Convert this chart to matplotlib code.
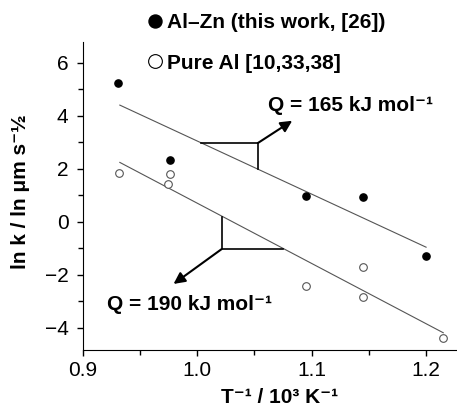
import numpy as np
import matplotlib
matplotlib.use("Agg")
import matplotlib.pyplot as plt

plt.rcParams['font.family'] = ['Liberation Sans', 'DejaVu Sans']

# Al-Zn (this work, [26])
alzn_x = [0.931, 0.976, 1.095, 1.145, 1.200]
alzn_y = [5.25, 2.35, 0.98, 0.94, -1.27]

# Pure Al [10,33,38]
pure_x = [0.932, 0.976, 0.975, 1.095, 1.145, 1.145, 1.215]
pure_y = [1.86, 1.80, 1.42, -2.40, -1.69, -2.84, -4.39]

# fitted lines (end points)
fit_alzn_x = [0.9326, 1.200]
fit_alzn_y = [4.40, -0.955]
fit_pure_x = [0.9326, 1.215]
fit_pure_y = [2.24, -4.18]

# slope triangles and arrows
tri_up_x = [1.0037, 1.0531, 1.0531]
tri_up_y = [2.97, 2.97, 1.98]
tri_lo_x = [1.0214, 1.0214, 1.0753]
tri_lo_y = [0.20, -1.03, -1.03]
arrow_up = ((1.0531, 2.97), (1.0831, 3.81))
arrow_lo = ((1.0214, -1.03), (0.9795, -2.34))

label_up = "Q = 165 kJ mol\u207b\u00b9"
label_lo = "Q = 190 kJ mol\u207b\u00b9"

fs = 15

fig = plt.figure(figsize=(4.57, 4.08), dpi=100)
ax = fig.add_axes([82.5 / 457, 58 / 408, 374.5 / 457, 308.3 / 408])

ax.plot(fit_alzn_x, fit_alzn_y, color='#555555', lw=0.8)
ax.plot(fit_pure_x, fit_pure_y, color='#555555', lw=0.8)
ax.plot(alzn_x, alzn_y, 'o', color='black', ms=5.2, label='Al\u2013Zn (this work, [26])')
ax.plot(pure_x, pure_y, 'o', mfc='white', mec='#555555', mew=0.8, ms=5.5,
        label='Pure Al [10,33,38]')

ax.plot(tri_up_x, tri_up_y, color='black', lw=1.2)
ax.plot(tri_lo_x, tri_lo_y, color='black', lw=1.2)
for (base, tip) in (arrow_up, arrow_lo):
    ax.annotate('', xy=tip, xytext=base,
                arrowprops=dict(arrowstyle='-|>', color='black', lw=1.5,
                                mutation_scale=17, shrinkA=0, shrinkB=0))

ax.text(1.0624, 4.40, label_up, fontsize=fs, fontweight='bold', va='center', ha='left')
ax.text(0.9215, -3.13, label_lo, fontsize=fs, fontweight='bold', va='center', ha='left')

ax.set_xlim(0.9, 1.227)
ax.set_ylim(-4.83, 6.79)
ax.set_xticks([0.9, 1.0, 1.1, 1.2])
ax.set_xticks([0.95, 1.05, 1.15], minor=True)
ax.set_yticks([-4, -2, 0, 2, 4, 6])
ax.set_yticks([-3, -1, 1, 3, 5], minor=True)
ax.set_xticklabels(['0.9', '1.0', '1.1', '1.2'])
ax.set_yticklabels(['\u22124', '\u22122', '0', '2', '4', '6'])
ax.tick_params(which='both', direction='out', labelsize=fs, width=1)
ax.tick_params(which='major', length=4)
ax.tick_params(which='minor', length=3.5)
ax.tick_params(axis='y', pad=6)
ax.tick_params(axis='x', pad=4)
for s in ('top', 'right'):
    ax.spines[s].set_visible(False)

ax.set_xlabel('T\u207b\u00b9 / 10\u00b3 K\u207b\u00b9', fontsize=fs, fontweight='bold')
ax.xaxis.set_label_coords(0.525, -0.122)
ax.set_ylabel('ln k / ln \u03bcm s\u207b\u00bd', fontsize=fs, fontweight='bold')
ax.yaxis.set_label_coords(-0.141, 0.512)

leg = ax.legend(loc='upper left', bbox_to_anchor=(147 / 457, 1 - 13.5 / 408),
                bbox_transform=fig.transFigure, frameon=False, handlelength=0.8,
                handletextpad=0.15, labelspacing=1.02, borderpad=0, borderaxespad=0,
                markerscale=1.8, prop=dict(size=fs, weight='bold'))
leg.legend_handles[1].set_markeredgecolor('black')

fig.savefig('out.png', dpi=100)
